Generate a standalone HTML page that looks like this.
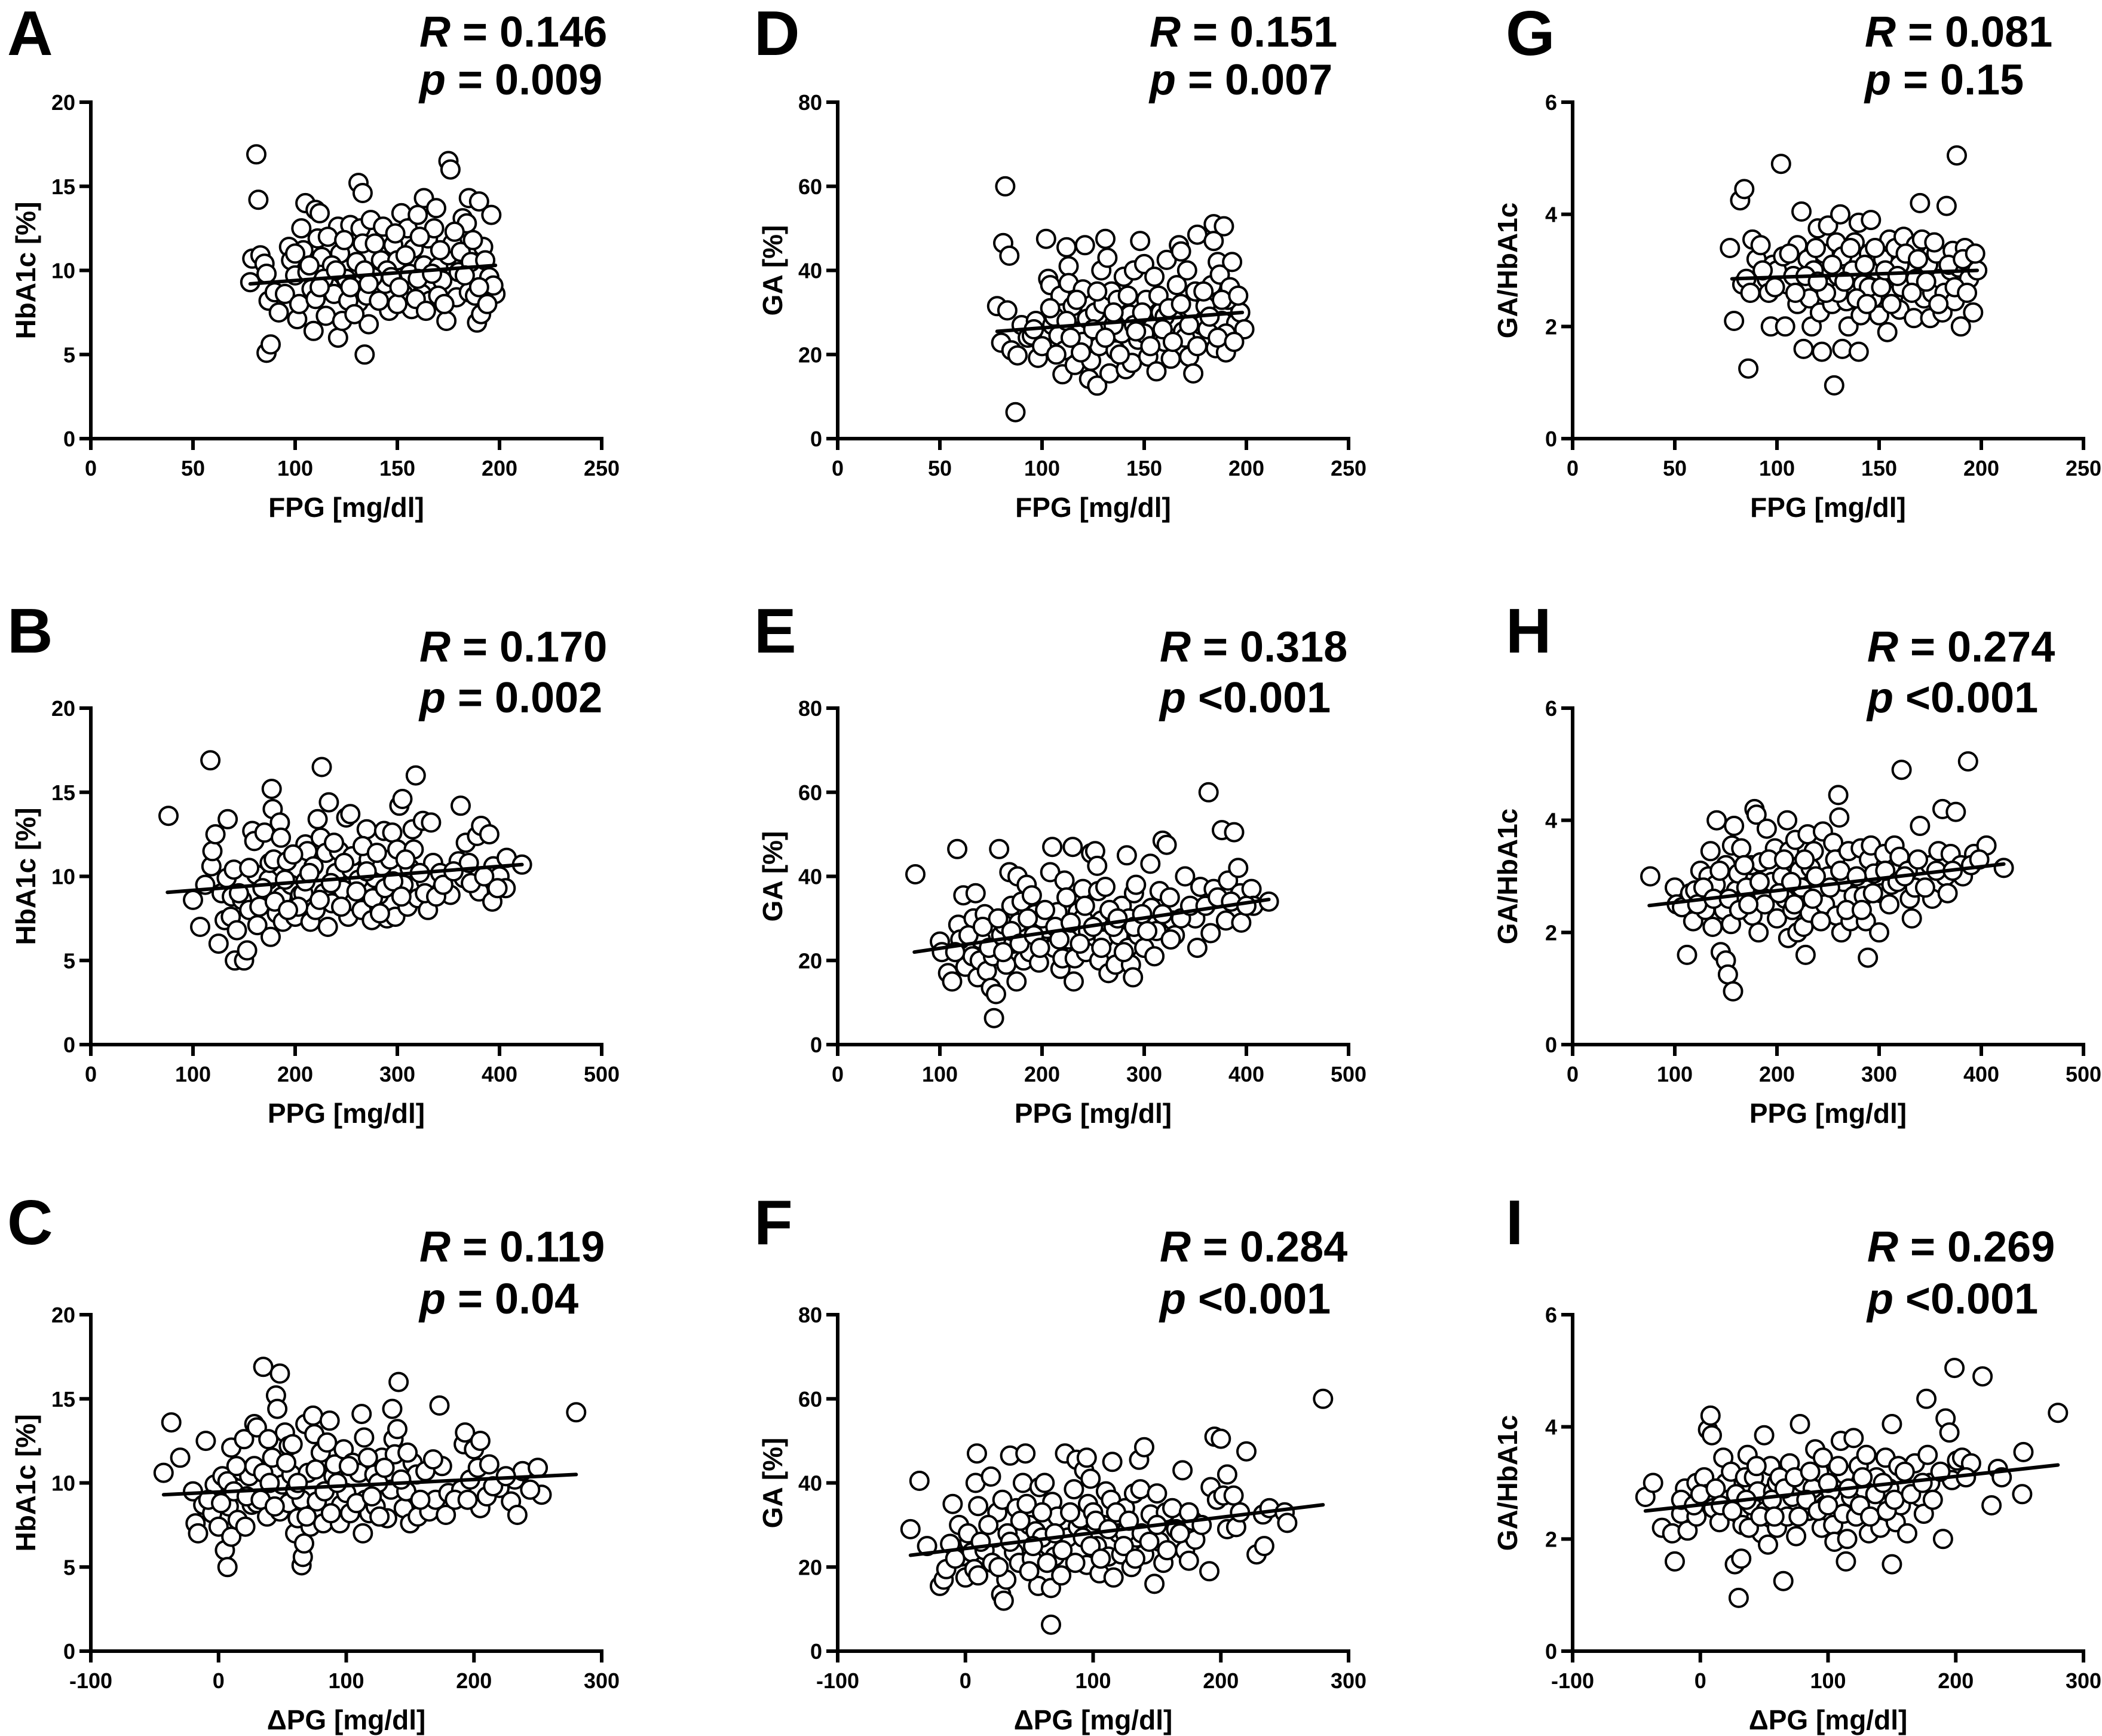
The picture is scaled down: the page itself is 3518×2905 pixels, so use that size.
<!DOCTYPE html>
<html>
<head>
<meta charset="utf-8">
<style>
  html, body { margin: 0; padding: 0; background: #fff; }
  svg { display: block; }
  text { font-family: "Liberation Sans", Arial, sans-serif; font-weight: bold; fill: #000; }
</style>
</head>
<body>
<svg id="fig" xmlns="http://www.w3.org/2000/svg" width="3518" height="2905" viewBox="0 0 3518 2905">
  <rect x="0" y="0" width="3518" height="2905" fill="#fff"/>
</svg>
<script>
// ---------- tick labels ----------
const xTicksFPG = [0, 50, 100, 150, 200, 250];
const xTicksPPG = [0, 100, 200, 300, 400, 500];
const xTicksDPG = [-100, 0, 100, 200, 300];
const yTicksHbA1c = [0, 5, 10, 15, 20];
const yTicksGA = [0, 20, 40, 60, 80];
const yTicksRatio = [0, 2, 4, 6];

// ---------- stats text ----------
const statR = ["0.146", "0.170", "0.119", "0.151", "0.318", "0.284", "0.081", "0.274", "0.269"];
const statP = ["= 0.009", "= 0.002", "= 0.04", "= 0.007", "<0.001", "<0.001", "= 0.15", "<0.001", "<0.001"];

// ---------- regression lines ----------
const lineXA = [78, 198];  const lineYA = [9.2, 10.3];
const lineXB = [75, 422];  const lineYB = [9.05, 10.7];
const lineXC = [-43, 280]; const lineYC = [9.3, 10.5];
const lineXD = [78, 198];  const lineYD = [25.5, 30];
const lineXE = [75, 422];  const lineYE = [22, 34.5];
const lineXF = [-43, 280]; const lineYF = [22.8, 34.8];
const lineXG = [78, 198];  const lineYG = [2.85, 3.0];
const lineXH = [75, 422];  const lineYH = [2.48, 3.22];
const lineXI = [-43, 280]; const lineYI = [2.5, 3.32];

// ---------- scatter data [x, y] ----------
const ptsA = [[81,16.9],[82,14.2],[86,5.1],[88,5.6],[134,5.0],[131,15.2],[133,14.6],[175,16.5],[176,16.0],[163,14.3],[185,14.3],[190,14.1],[78,9.3],[79,10.7],[83,10.9],[85,10.4],[86,9.8],[87,8.2],[90,8.7],[92,7.5],[95,8.6],[97,11.4],[98,10.6],[100,9.7],[101,7.1],[103,12.5],[104,11.2],[105,14.0],[106,9.9],[108,8.9],[109,6.4],[110,13.6],[111,11.9],[112,13.4],[113,10.8],[115,7.3],[117,9.0],[119,8.6],[121,12.6],[122,11.0],[121,6.0],[123,7.0],[125,9.5],[127,12.7],[128,8.9],[130,10.5],[131,8.1],[132,12.5],[133,11.6],[135,8.5],[136,6.8],[137,13.0],[140,9.8],[142,10.6],[143,12.6],[144,9.2],[146,7.6],[148,11.5],[150,10.6],[152,13.4],[153,8.6],[155,12.5],[156,9.8],[157,7.7],[158,11.3],[160,13.3],[162,8.6],[163,10.3],[165,11.9],[166,8.2],[168,12.5],[169,13.7],[170,10.2],[172,9.4],[174,7.0],[175,10.9],[177,11.6],[179,8.4],[180,9.9],[181,11.1],[182,13.1],[184,12.8],[185,8.7],[186,10.5],[188,8.5],[189,6.9],[191,7.4],[192,11.4],[193,10.6],[195,9.6],[196,13.3],[198,8.6],[197,9.1],[145,10.0],[138,9.6],[126,8.2],[118,10.3],[160,9.5],[150,8.0],[170,8.5]];
const ptsACore = [[100,11.0],[102,8.0],[107,10.3],[110,8.3],[114,9.5],[116,12.0],[120,10.0],[124,11.8],[127,9.0],[129,7.4],[134,10.0],[139,11.6],[141,8.2],[147,9.6],[149,12.2],[151,9.0],[154,10.9],[159,8.3],[161,12.0],[164,7.6],[167,9.8],[171,11.2],[173,8.0],[178,12.3],[183,9.7],[187,11.8],[194,8.0],[190,9.0],[136,9.2],[112,9.0]];
const ptsB = [[76,13.6],[100,8.6],[107,7.0],[112,9.5],[117,16.9],[118,10.6],[119,11.5],[122,12.5],[125,6.0],[128,9.0],[131,7.4],[133,9.9],[134,13.4],[137,7.6],[138,8.8],[140,10.4],[141,5.0],[143,6.8],[150,5.0],[153,5.6],[148,8.6],[155,8.0],[158,12.7],[160,12.1],[162,10.1],[163,7.1],[165,8.2],[170,12.6],[174,9.8],[175,10.8],[176,6.4],[177,15.2],[178,14.0],[179,11.0],[182,7.8],[185,13.2],[186,12.3],[187,8.8],[188,7.3],[192,10.9],[196,9.5],[200,7.6],[205,8.9],[208,9.0],[210,11.9],[212,11.5],[215,7.3],[218,10.6],[220,8.0],[222,13.4],[225,12.3],[226,16.5],[228,9.0],[230,11.4],[232,7.0],[233,14.4],[236,8.4],[240,10.2],[243,11.5],[247,9.2],[250,13.5],[252,7.6],[254,13.7],[255,10.4],[256,11.2],[258,8.5],[262,9.8],[265,8.0],[270,12.8],[272,11.0],[275,7.4],[278,9.9],[282,8.9],[285,10.6],[287,12.7],[290,7.5],[293,11.0],[295,12.6],[298,7.6],[300,11.6],[302,14.2],[305,14.6],[306,9.5],[310,8.2],[312,10.5],[315,12.8],[316,11.6],[318,16.0],[320,8.7],[325,13.3],[328,9.7],[330,8.0],[333,13.2],[335,10.8],[342,10.2],[352,8.9],[360,10.9],[362,14.2],[365,9.9],[367,12.0],[370,10.8],[378,12.4],[380,9.1],[382,13.0],[390,12.5],[393,8.5],[394,10.6],[400,10.0],[406,9.3],[407,11.1],[422,10.7],[270,10.3],[245,8.2],[210,9.7]];
const ptsBCore = [[145,9.0],[155,10.5],[168,9.3],[180,8.5],[190,9.8],[198,11.3],[203,8.2],[214,10.2],[224,8.6],[235,9.6],[238,12.0],[248,10.8],[260,9.1],[266,11.8],[276,8.7],[280,11.4],[288,9.3],[296,9.7],[304,8.8],[308,11.0],[322,10.2],[327,9.0],[338,8.8],[345,9.5],[355,10.3],[372,9.6],[385,10.0],[398,9.3],[193,8.0],[283,7.8]];
const ptsC = [[-43,10.6],[-37,13.6],[-30,11.5],[-20,9.5],[-18,7.6],[-16,7.0],[-12,8.7],[-10,12.5],[-5,8.2],[-3,9.9],[0,7.4],[3,10.4],[5,6.0],[7,5.0],[7,10.1],[8,8.6],[10,6.8],[10,12.1],[12,9.5],[15,7.8],[18,10.7],[20,12.6],[21,7.4],[24,10.4],[26,8.7],[28,11.0],[28,13.5],[30,13.3],[30,8.8],[35,10.6],[38,8.0],[39,12.6],[35,16.9],[42,11.5],[45,15.2],[46,14.4],[48,8.3],[48,16.5],[50,9.9],[52,13.0],[55,12.2],[55,8.8],[57,10.5],[58,12.3],[60,7.0],[62,7.9],[65,9.0],[65,5.1],[66,5.6],[67,6.4],[68,13.5],[70,10.6],[72,7.4],[74,14.0],[75,12.9],[77,8.9],[80,11.8],[82,7.6],[85,12.4],[87,13.7],[90,10.4],[91,11.1],[95,7.6],[96,8.7],[98,12.0],[100,9.4],[103,8.2],[105,11.2],[110,10.6],[112,14.1],[113,7.0],[114,12.7],[115,9.0],[118,8.2],[122,10.5],[123,8.6],[128,11.5],[132,7.9],[135,9.6],[136,14.4],[137,12.6],[138,11.7],[140,13.2],[141,16.0],[145,8.5],[147,9.5],[150,7.6],[152,11.2],[155,10.5],[156,8.0],[165,8.3],[170,9.0],[173,14.6],[175,11.0],[178,8.1],[180,9.4],[190,9.6],[192,12.3],[193,13.0],[197,10.2],[200,12.0],[203,10.9],[205,12.5],[205,8.5],[210,9.2],[212,11.1],[220,9.7],[229,8.9],[232,10.2],[234,8.1],[238,10.7],[250,10.9],[253,9.3],[280,14.2],[60,9.6],[125,10.0]];
const ptsCCore = [[-8,9.0],[2,8.8],[14,11.0],[22,9.2],[33,9.0],[40,10.0],[44,8.6],[53,11.2],[62,10.0],[69,8.0],[76,10.8],[83,9.5],[88,8.2],[93,10.0],[102,11.0],[108,8.8],[117,11.5],[120,9.2],[126,8.0],[130,10.9],[143,10.2],[148,11.8],[158,9.0],[162,10.7],[168,11.4],[185,9.0],[195,9.0],[215,9.8],[225,10.4],[244,9.6]];
const ptsD = [[78,31.5],[80,22.8],[82,60],[81,46.5],[84,43.5],[83,30.5],[85,21],[87,6.3],[88,19.8],[90,27],[93,24],[95,24.5],[97,28],[98,19.2],[102,47.5],[103,38],[104,36.5],[105,27],[106,29],[108,24.5],[109,34],[110,15.3],[111,21],[112,45.5],[113,41],[113,37],[115,31.5],[116,17.5],[118,25.5],[120,35.5],[121,46],[122,28.5],[123,14.2],[124,18.5],[126,30],[127,12.6],[128,22],[129,40],[130,32],[131,47.5],[132,43],[133,15.5],[134,35],[136,21],[137,33],[139,25],[140,38.5],[141,16.5],[143,29.5],[144,18],[145,40],[147,23.5],[148,47],[150,41.5],[151,33],[152,19.5],[154,26.5],[155,38.5],[156,16],[158,30],[160,23],[161,42.5],[163,19],[165,28],[166,36.5],[167,46],[168,44.5],[169,25.5],[171,40],[172,19.5],[173,31],[174,15.5],[175,35],[176,48.5],[178,27],[180,31.5],[181,26],[183,36.5],[184,51],[184,47],[185,21.5],[186,42],[187,39],[188,28],[189,50.5],[190,20.5],[191,33],[192,36],[193,42],[195,27.5],[197,30],[199,26],[160,29],[145,27],[135,27],[120,23],[150,25],[170,24],[190,25]];
const ptsDCore = [[96,26],[100,22],[104,31],[107,20],[112,28],[114,24],[117,33],[119,20.5],[125,26],[127,35],[131,24],[135,30],[138,20],[142,34],[146,25.5],[149,30],[153,22],[157,34],[159,26],[162,31],[164,23],[168,32],[172,27],[176,22],[179,35],[182,29],[186,24],[188,33],[194,23],[196,34]];
const ptsE = [[76,40.5],[100,24.5],[102,22],[108,17],[112,15],[117,46.5],[118,28.5],[120,25],[123,35.5],[125,18.5],[132,21],[133,30],[135,36],[137,16],[139,20],[140,25],[144,31],[146,17.5],[150,13.5],[152,21],[155,12],[153,6.3],[158,46.5],[160,26],[163,28.5],[165,19],[168,41],[170,33],[172,24],[175,15],[176,40],[177,29],[180,34],[182,20],[185,38],[188,22],[190,35.5],[193,31],[197,19.5],[200,26.5],[205,27.5],[208,41],[210,47],[212,23],[215,31.5],[218,18],[220,20.5],[222,39],[224,35],[226,25],[230,47],[232,20.5],[231,15],[235,31.5],[240,37],[243,22],[245,27],[248,45.5],[252,46],[254,42.5],[255,36.5],[256,20],[258,29.5],[260,25],[262,37.5],[265,17],[270,31],[272,19],[275,26],[278,33],[283,45],[284,23],[285,30],[287,19],[289,16],[290,36],[292,38],[294,26],[300,23],[306,43],[307,32.5],[310,21],[312,27],[315,36.5],[318,48.5],[322,47.5],[325,35],[328,29.5],[330,26],[340,40],[350,30],[352,23],[355,37.5],[363,60],[365,26.5],[368,37],[376,51],[380,29.5],[382,39],[388,50.5],[392,42],[394,36],[395,29],[405,37],[407,33],[422,34],[270,28],[240,30],[200,30]];
const ptsECore = [[115,22],[128,26],[142,28],[148,23],[157,30],[162,22],[170,27],[178,24],[186,30],[192,26],[198,23],[203,32],[213,28],[217,25],[228,29],[237,24],[242,33],[250,28],[258,23],[266,32],[274,30],[280,22],[290,28],[298,31],[303,27],[318,31],[326,25],[336,30],[345,33],[360,33],[372,35],[385,34],[400,33]];
const ptsF = [[-43,29],[-36,40.5],[-30,25],[-20,15.5],[-17,17],[-15,19.5],[-12,25.5],[-10,35],[-5,30],[-3,22.5],[0,17.5],[3,26],[5,23.5],[7,19.5],[8,40],[9,47],[10,34.5],[10,18],[15,24],[20,41.5],[21,21],[23,27],[25,33],[28,13.5],[30,12],[29,36],[32,17],[33,28],[35,46.5],[38,23.5],[40,34],[42,21],[45,40],[47,47],[48,35],[50,30],[52,22],[55,28.5],[57,15.5],[58,39],[62,40],[65,25],[67,15],[67,6.3],[68,35.5],[70,22.5],[72,32],[75,18],[78,47],[80,27],[85,38.5],[87,45.5],[88,29.5],[90,31.5],[93,43],[95,46],[96,35],[98,41],[95,20.5],[100,33],[103,25],[105,18.5],[108,30],[110,38],[112,22.5],[114,36],[115,45],[116,17.5],[120,28],[122,23],[125,34],[130,20],[132,37.5],[134,27],[136,45.5],[137,38.5],[140,48.5],[140,23],[145,32.5],[148,16],[150,37.5],[152,26],[155,21],[157,33],[165,29],[170,43],[172,24],[175,21.5],[178,31],[180,26.5],[191,19],[192,39],[195,51],[197,36],[200,50.5],[202,37],[205,42],[205,29],[210,37],[212,29.5],[220,47.5],[228,23],[233,32.5],[234,25],[238,34],[250,33],[252,30.5],[280,60],[60,27],[125,28]];
const ptsFCore = [[-8,22],[2,28],[12,26],[18,30],[26,20],[35,26],[43,31],[50,19],[53,25],[60,33],[64,21],[70,28],[76,24],[82,33],[86,21],[92,27],[98,25],[102,31],[106,22],[112,29],[118,33],[124,25],[128,31],[133,22],[138,28],[144,26],[150,30],[158,24],[162,34],[168,28],[175,33],[185,30],[215,33]];
const ptsG = [[77,3.4],[79,2.1],[82,4.25],[84,4.45],[83,2.75],[85,2.85],[86,1.25],[87,2.6],[88,3.55],[90,3.2],[92,3.45],[95,2.85],[96,2.6],[97,2.0],[98,3.1],[100,3.0],[102,4.9],[103,3.25],[104,2.0],[105,2.75],[108,2.9],[110,3.45],[110,2.4],[112,4.05],[113,1.6],[115,3.2],[116,2.5],[117,2.0],[118,3.0],[120,3.75],[121,2.25],[122,1.55],[123,3.3],[125,3.8],[126,2.7],[127,2.4],[128,0.95],[129,3.5],[130,2.9],[131,4.0],[132,1.6],[132,3.25],[134,2.45],[135,2.0],[137,3.0],[138,3.5],[140,1.55],[140,3.85],[141,2.2],[142,2.75],[145,3.3],[146,3.9],[147,2.5],[149,3.0],[150,2.2],[152,3.2],[154,2.9],[154,1.9],[155,3.55],[157,2.55],[158,3.4],[160,2.3],[161,2.7],[162,3.6],[165,3.0],[167,2.15],[168,3.45],[168,2.85],[170,4.2],[171,3.55],[172,2.5],[174,3.1],[175,2.15],[176,2.6],[178,3.3],[180,2.85],[181,2.25],[182,2.6],[183,4.15],[185,3.0],[186,3.35],[187,2.45],[188,5.05],[189,3.05],[190,2.0],[192,3.4],[194,2.85],[195,3.15],[196,2.25],[198,3.0],[145,2.7],[130,2.6],[160,3.1]];
const ptsGCore = [[93,3.0],[99,2.7],[106,3.3],[109,2.6],[114,2.9],[119,3.4],[124,2.6],[127,3.1],[133,2.8],[136,3.4],[139,2.5],[143,3.1],[144,2.4],[148,3.4],[151,2.7],[153,3.0],[156,2.4],[159,2.9],[163,3.3],[166,2.6],[169,3.2],[173,2.8],[177,3.5],[179,2.4],[184,3.1],[187,2.7],[191,3.2],[193,2.6],[197,3.3],[120,2.8]];
const ptsH = [[76,3.0],[100,2.8],[102,2.5],[107,2.45],[112,1.6],[115,2.7],[118,2.2],[120,2.75],[125,3.1],[130,2.4],[133,3.0],[135,3.45],[137,2.1],[140,2.85],[141,4.0],[145,1.65],[148,2.4],[150,1.5],[150,3.2],[152,1.25],[155,2.15],[156,3.55],[157,0.95],[158,3.9],[160,2.75],[162,3.05],[165,3.5],[167,2.6],[170,2.8],[175,3.2],[176,2.3],[178,4.2],[180,4.1],[182,2.0],[184,3.25],[186,2.7],[188,2.5],[190,3.85],[195,2.9],[198,3.5],[200,2.25],[205,3.0],[208,2.6],[210,4.0],[211,1.9],[212,3.45],[215,2.4],[218,3.65],[220,2.0],[222,3.1],[224,2.8],[226,2.1],[228,1.6],[230,3.75],[232,2.35],[233,3.15],[236,3.45],[240,2.7],[245,3.8],[247,2.5],[250,3.0],[255,3.6],[257,3.3],[258,2.3],[260,4.45],[261,4.05],[263,2.0],[265,2.9],[270,3.45],[272,2.2],[275,2.65],[282,3.5],[285,2.65],[287,2.2],[289,1.55],[290,3.3],[292,3.55],[295,3.05],[300,2.0],[302,2.7],[305,3.4],[310,2.5],[312,2.85],[315,3.55],[320,3.35],[322,4.9],[328,3.1],[330,2.6],[332,2.25],[335,2.8],[340,3.9],[350,3.2],[352,2.6],[358,3.45],[362,4.2],[365,3.0],[367,2.7],[370,3.4],[375,4.15],[380,3.2],[382,3.0],[387,5.05],[393,3.4],[405,3.55],[422,3.15]];
const ptsHCore = [[122,2.5],[128,2.8],[138,2.6],[144,3.1],[153,2.6],[163,2.4],[168,3.2],[172,2.5],[183,2.9],[192,3.3],[202,2.7],[207,3.3],[214,2.9],[217,2.5],[227,3.3],[235,2.6],[238,3.0],[243,2.2],[252,2.8],[262,3.1],[268,2.4],[278,3.0],[283,2.4],[294,2.7],[306,3.1],[318,2.9],[325,3.0],[338,3.3],[345,2.8],[356,3.1],[372,3.1],[390,3.2],[398,3.3]];
const ptsI = [[-43,2.75],[-37,3.0],[-30,2.2],[-22,2.1],[-20,1.6],[-15,2.45],[-12,2.9],[-10,2.15],[-3,2.4],[-3,3.0],[3,3.1],[5,2.8],[6,3.95],[8,4.2],[9,3.85],[10,2.55],[15,2.3],[18,3.45],[20,3.0],[22,2.7],[24,3.2],[27,1.55],[28,2.8],[30,0.95],[30,2.45],[32,1.65],[33,2.25],[35,3.1],[37,3.5],[40,2.6],[42,3.1],[45,2.85],[48,2.1],[50,3.85],[51,2.5],[53,1.9],[55,3.3],[57,2.85],[60,2.2],[63,2.6],[65,1.25],[68,2.4],[70,3.35],[72,2.75],[75,2.05],[78,4.05],[80,3.0],[85,2.5],[88,2.9],[90,3.6],[93,3.2],[95,2.2],[96,3.45],[98,2.6],[102,2.85],[104,2.25],[105,1.95],[110,3.75],[112,2.45],[113,3.15],[114,1.6],[115,2.0],[118,2.75],[120,3.8],[122,2.4],[124,3.3],[128,2.9],[130,3.5],[132,2.1],[135,2.55],[138,3.1],[141,2.2],[145,3.45],[148,2.9],[150,1.55],[150,4.05],[153,2.3],[155,3.3],[157,2.6],[162,2.1],[168,3.35],[172,2.75],[175,2.45],[177,4.5],[178,3.5],[180,3.0],[190,2.0],[192,4.15],[195,3.9],[197,3.05],[199,5.05],[201,3.4],[205,3.45],[212,3.35],[221,4.9],[228,2.6],[233,3.25],[236,3.1],[253,3.55],[252,2.8],[280,4.25],[100,3.0],[60,3.0]];
const ptsICore = [[-15,2.7],[-5,2.6],[0,2.8],[12,2.9],[16,2.6],[25,2.5],[36,2.7],[38,2.2],[44,3.3],[47,2.4],[56,2.7],[58,2.4],[62,3.1],[66,2.9],[74,3.1],[77,2.4],[83,2.7],[86,3.2],[92,2.5],[100,2.6],[108,3.3],[116,2.9],[125,2.6],[127,3.1],[133,2.4],[137,2.8],[143,3.0],[146,2.5],[152,2.7],[160,3.2],[165,2.8],[174,3.0],[182,2.7],[188,3.2],[208,3.1]];

// ---------- layout ----------
const NS = "http://www.w3.org/2000/svg";
const svg = document.getElementById("fig");
const colX = [152, 1402, 2632];
const rowY = [171, 1185, 2200];
const PW = 855, PH = 563;
const textLeft = [[702, 702, 702], [1924, 1941, 1941], [3121, 3125, 3125]];
const rBase = [78, 1107, 2111];
const pBase = [158, 1192, 2198];
const letterBase = [92, 1092, 2082];
const letterX = [12, 1262, 2520];

const panels = [
  {id:"A", col:0,row:0, pts:ptsA.concat(ptsACore), lx:lineXA, ly:lineYA, xt:xTicksFPG, yt:yTicksHbA1c, xl:"FPG [mg/dl]", yl:"HbA1c [%]"},
  {id:"B", col:0,row:1, pts:ptsB.concat(ptsBCore), lx:lineXB, ly:lineYB, xt:xTicksPPG, yt:yTicksHbA1c, xl:"PPG [mg/dl]", yl:"HbA1c [%]"},
  {id:"C", col:0,row:2, pts:ptsC.concat(ptsCCore), lx:lineXC, ly:lineYC, xt:xTicksDPG, yt:yTicksHbA1c, xl:"\u0394PG [mg/dl]", yl:"HbA1c [%]"},
  {id:"D", col:1,row:0, pts:ptsD.concat(ptsDCore), lx:lineXD, ly:lineYD, xt:xTicksFPG, yt:yTicksGA, xl:"FPG [mg/dl]", yl:"GA [%]"},
  {id:"E", col:1,row:1, pts:ptsE.concat(ptsECore), lx:lineXE, ly:lineYE, xt:xTicksPPG, yt:yTicksGA, xl:"PPG [mg/dl]", yl:"GA [%]"},
  {id:"F", col:1,row:2, pts:ptsF.concat(ptsFCore), lx:lineXF, ly:lineYF, xt:xTicksDPG, yt:yTicksGA, xl:"\u0394PG [mg/dl]", yl:"GA [%]"},
  {id:"G", col:2,row:0, pts:ptsG.concat(ptsGCore), lx:lineXG, ly:lineYG, xt:xTicksFPG, yt:yTicksRatio, xl:"FPG [mg/dl]", yl:"GA/HbA1c"},
  {id:"H", col:2,row:1, pts:ptsH.concat(ptsHCore), lx:lineXH, ly:lineYH, xt:xTicksPPG, yt:yTicksRatio, xl:"PPG [mg/dl]", yl:"GA/HbA1c"},
  {id:"I", col:2,row:2, pts:ptsI.concat(ptsICore), lx:lineXI, ly:lineYI, xt:xTicksDPG, yt:yTicksRatio, xl:"\u0394PG [mg/dl]", yl:"GA/HbA1c"}
];

function mk(tag, parent) {
  const el = document.createElementNS(NS, tag);
  parent.appendChild(el);
  return el;
}

panels.forEach(function(p, idx) {
  const x0 = colX[p.col], y0 = rowY[p.row];
  const xMin = p.xt[0], xMax = p.xt[p.xt.length - 1];
  const yMin = p.yt[0], yMax = p.yt[p.yt.length - 1];
  const sx = function(v) { return x0 + (v - xMin) / (xMax - xMin) * PW; };
  const sy = function(v) { return y0 + PH - (v - yMin) / (yMax - yMin) * PH; };
  const key = p.id.toLowerCase();

  const g = mk("g", svg);
  
  

  const lt = mk("text", g);
  
  
  lt.setAttribute("x", letterX[p.col]);
  lt.setAttribute("y", letterBase[p.row]);
  lt.setAttribute("font-size", "106");
  lt.textContent = p.id;

  const tx = textLeft[p.col][p.row];
  const rt = mk("text", g);
  
  
  rt.setAttribute("x", tx);
  rt.setAttribute("y", rBase[p.row]);
  rt.setAttribute("font-size", "72");
  const r1 = mk("tspan", rt); r1.setAttribute("font-style", "italic"); r1.textContent = "R";
  const r2 = mk("tspan", rt); r2.textContent = " = " + statR[idx];

  const pt = mk("text", g);
  
  
  pt.setAttribute("x", tx);
  pt.setAttribute("y", pBase[p.row]);
  pt.setAttribute("font-size", "72");
  const p1 = mk("tspan", pt); p1.setAttribute("font-style", "italic"); p1.textContent = "p";
  const p2 = mk("tspan", pt); p2.textContent = " " + statP[idx];

  const pg = mk("g", g);
  
  
  p.pts.forEach(function(d) {
    const c = mk("circle", pg);
    
    
    c.setAttribute("cx", sx(d[0]).toFixed(1));
    c.setAttribute("cy", sy(d[1]).toFixed(1));
    c.setAttribute("r", "15");
    c.setAttribute("fill", "#fff");
    c.setAttribute("stroke", "#000");
    c.setAttribute("stroke-width", "4");
  });

  const rl = mk("line", g);
  
  
  rl.setAttribute("x1", sx(p.lx[0])); rl.setAttribute("y1", sy(p.ly[0]));
  rl.setAttribute("x2", sx(p.lx[1])); rl.setAttribute("y2", sy(p.ly[1]));
  rl.setAttribute("stroke", "#000"); rl.setAttribute("stroke-width", "6");
  rl.setAttribute("stroke-linecap", "round");

  const ax = mk("path", g);
  
  
  ax.setAttribute("d", "M" + x0 + "," + y0 + " L" + x0 + "," + (y0 + PH) + " L" + (x0 + PW) + "," + (y0 + PH));
  ax.setAttribute("fill", "none"); ax.setAttribute("stroke", "#000"); ax.setAttribute("stroke-width", "6");
  ax.setAttribute("stroke-linecap", "square");

  p.yt.forEach(function(v) {
    const yy = sy(v);
    const tk = mk("line", g);
    
    
    tk.setAttribute("x1", x0 - 19); tk.setAttribute("x2", x0);
    tk.setAttribute("y1", yy); tk.setAttribute("y2", yy);
    tk.setAttribute("stroke", "#000"); tk.setAttribute("stroke-width", "6");
    const tl = mk("text", g);
    
    
    tl.setAttribute("x", x0 - 26); tl.setAttribute("y", yy + 13);
    tl.setAttribute("font-size", "36"); tl.setAttribute("text-anchor", "end");
    tl.textContent = v;
  });
  p.xt.forEach(function(v) {
    const xx = sx(v);
    const tk = mk("line", g);
    
    
    tk.setAttribute("x1", xx); tk.setAttribute("x2", xx);
    tk.setAttribute("y1", y0 + PH); tk.setAttribute("y2", y0 + PH + 19);
    tk.setAttribute("stroke", "#000"); tk.setAttribute("stroke-width", "6");
    const tl = mk("text", g);
    
    
    tl.setAttribute("x", xx); tl.setAttribute("y", y0 + PH + 62);
    tl.setAttribute("font-size", "36"); tl.setAttribute("text-anchor", "middle");
    tl.textContent = v;
  });

  const xt = mk("text", g);
  
  
  xt.setAttribute("x", x0 + PW / 2); xt.setAttribute("y", y0 + PH + 131);
  xt.setAttribute("font-size", "46"); xt.setAttribute("text-anchor", "middle");
  xt.textContent = p.xl;

  const yt = mk("text", g);
  
  
  const cx = x0 - 93, cy = y0 + PH / 2;
  yt.setAttribute("x", cx); yt.setAttribute("y", cy);
  yt.setAttribute("font-size", "46"); yt.setAttribute("text-anchor", "middle");
  yt.setAttribute("transform", "rotate(-90 " + cx + " " + cy + ")");
  yt.textContent = p.yl;
});
</script>
</body>
</html>
